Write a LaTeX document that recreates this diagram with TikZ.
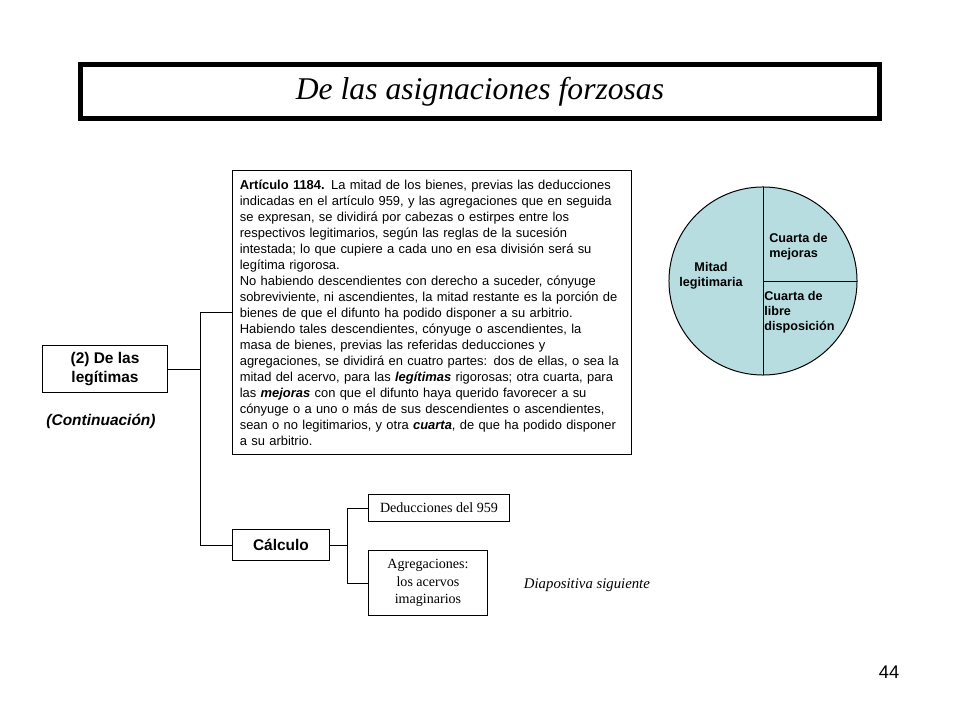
\documentclass[tikz,border=0pt]{standalone}
\usepackage{fontspec}
\setmainfont{Liberation Serif}
\setsansfont{Liberation Sans}
\usetikzlibrary{positioning}
\definecolor{pieblue}{HTML}{B8DDE1}

\begin{document}
\begin{tikzpicture}[
    x=0.025cm, y=-0.025cm,
    every node/.style={font=\sffamily},
    linebox/.style={rectangle, draw, line width=0.9pt, align=center, inner sep=2pt},
    branch/.style={line width=0.7pt},
    boldsf/.style={font=\sffamily\bfseries\fontsize{11}{13}\selectfont},
    serifbox/.style={linebox, font=\rmfamily\fontsize{10}{12.4}\selectfont},
    piel/.style={font=\sffamily\bfseries\fontsize{9}{10.6}\selectfont, align=left, inner sep=0pt},
  ]
  \useasboundingbox (0,0) rectangle (960,720);

  % Title
  \node[draw, line width=3.6pt, minimum width=19.975cm, minimum height=1.35cm, inner sep=0pt,
        font=\rmfamily\itshape\fontsize{22.5}{26}\selectfont] (title) at (480,91.5)
        {De las asignaciones forzosas};

  % Left side
  \node[linebox, boldsf, minimum width=3.13cm, minimum height=1.18cm] (leg) at (105,369) {(2) De las\\legítimas};
  \node[font=\sffamily\bfseries\itshape\fontsize{11}{13}\selectfont] (cont) at (101,421) {(Continuación)};

  % Article text
  \node[linebox, anchor=north west, text width=9.6cm, align=left, inner xsep=0.18cm, inner ysep=6.4pt,
        font=\sffamily\fontsize{9.2}{11.4}\selectfont] (art) at (232,170)
        {\textbf{Artículo 1184.} La mitad de los bienes, previas las deducciones\\
         indicadas en el artículo 959, y las agregaciones que en seguida\\
         se expresan, se dividirá por cabezas o estirpes entre los\\
         respectivos legitimarios, según las reglas de la sucesión\\
         intestada; lo que cupiere a cada uno en esa división será su\\
         legítima rigorosa.\\
         No habiendo descendientes con derecho a suceder, cónyuge\\
         sobreviviente, ni ascendientes, la mitad restante es la porción de\\
         bienes de que el difunto ha podido disponer a su arbitrio.\\
         Habiendo tales descendientes, cónyuge o ascendientes, la\\
         masa de bienes, previas las referidas deducciones y\\
         agregaciones, se dividirá en cuatro partes: dos de ellas, o sea la\\
         mitad del acervo, para las \textbf{\textit{legítimas}} rigorosas; otra cuarta, para\\
         las \textbf{\textit{mejoras}} con que el difunto haya querido favorecer a su\\
         cónyuge o a uno o más de sus descendientes o ascendientes,\\
         sean o no legitimarios, y otra \textbf{\textit{cuarta}}, de que ha podido disponer\\
         a su arbitrio.};

  % Calculation
  \node[linebox, boldsf, minimum width=2.43cm, minimum height=0.78cm] (calc) at (281,545) {Cálculo};
  \node[serifbox, minimum width=3.53cm, minimum height=0.68cm] (ded) at (439,508) {Deducciones del 959};
  \node[serifbox, minimum width=2.98cm, minimum height=1.63cm] (agr) at (428,583) {Agregaciones:\\los acervos\\imaginarios};
  \node[anchor=west, font=\rmfamily\itshape\fontsize{10.5}{12}\selectfont] (next) at (519,585) {Diapositiva siguiente};

  \draw[branch] (leg.east) -- ++(32,0) coordinate (j1);
  \draw[branch] (j1) |- (art.west);
  \draw[branch] (j1) |- (calc.west);
  \draw[branch] (calc.east) -- ++(17,0) coordinate (j2);
  \draw[branch] (j2) |- (ded.west);
  \draw[branch] (j2) |- (agr.west);

  % Pie
  \coordinate (pc) at (763,281);
  \filldraw[fill=pieblue, draw=black, line width=0.7pt] (pc) circle[radius=2.35cm];
  \draw[line width=0.7pt] (pc) ++(0,-94) -- ++(0,188);
  \draw[line width=0.7pt] (pc) -- ++(94,0);
  \node[piel, align=center] (mitad) at (711,276) {Mitad\\legitimaria};
  \node[piel, anchor=west] (mej) at (769,247) {Cuarta de\\mejoras};
  \node[piel, anchor=west] (libre) at (764,312) {Cuarta de\\libre\\disposición};

  % Page number
  \node[font=\sffamily\fontsize{13}{15}\selectfont] (pnum) at (889,672) {44};
\end{tikzpicture}
\end{document}
